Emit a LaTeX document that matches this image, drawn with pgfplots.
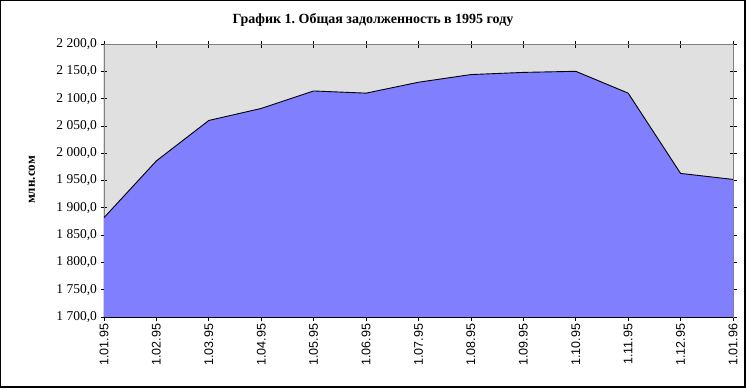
\documentclass[border=0pt]{standalone}
\usepackage{fontspec}
\setmainfont{Liberation Serif}
\newfontfamily\xfont{Liberation Sans}
\usepackage{pgfplots}
\pgfplotsset{compat=1.18}
\definecolor{areafill}{RGB}{128,128,255}
\definecolor{plotbg}{RGB}{224,224,224}
\frenchspacing
\begin{document}
\begin{tikzpicture}[x=1pt,y=1pt]
\useasboundingbox (-104,-71) rectangle (642,317);
\draw[black,line width=1pt] (-103.5,-70) rectangle (641,316.5);
\draw[black,line width=2pt] (-103.5,-70) -- (641,-70) -- (641,316.5);
\begin{axis}[
  at={(0,0)}, anchor=south west,
  scale only axis, width=629pt, height=273pt,
  xmin=0, xmax=12, ymin=1700, ymax=2200,
  xtick={0,...,12},
  xticklabels={1.01.95,1.02.95,1.03.95,1.04.95,1.05.95,1.06.95,1.07.95,1.08.95,1.09.95,1.10.95,1.11.95,1.12.95,1.01.96},
  xticklabel style={rotate=90, anchor=east, font=\xfont\fontsize{12.5}{14}\selectfont},
  ytick={1700,1750,...,2200},
  yticklabel style={font=\fontsize{13.5}{15}\selectfont},
  /pgf/number format/.cd, fixed, fixed zerofill, precision=1, use comma, 1000 sep={\ }, assume math mode=true,
  /pgfplots/.cd,
  tick align=center, major tick length=7pt,
  tick style={black, line width=0.8pt},
  axis line style={draw=gray, line width=0.8pt},
  axis background/.style={fill=plotbg},
  clip=true,
]
\addplot[fill=areafill, draw=none] coordinates {
(0,1882) (1,1986) (2,2060) (3,2082) (4,2114) (5,2110) (6,2130) (7,2144) (8,2148) (9,2150) (10,2110) (11,1963) (12,1952)
} \closedcycle;
\addplot[black, line width=0.9pt] coordinates {
(0,1882) (1,1986) (2,2060) (3,2082) (4,2114) (5,2110) (6,2130) (7,2144) (8,2148) (9,2150) (10,2110) (11,1963) (12,1952)
};
\draw[black, line width=1pt] (rel axis cs:0,1) -- (rel axis cs:0,0) -- (rel axis cs:1,0);
\end{axis}
\node[font=\bfseries\fontsize{14}{16}\selectfont] at (269,297) {График 1. Общая задолженность в 1995 году};
\node[font=\bfseries\fontsize{13}{15}\selectfont, rotate=90] at (-72,137) {млн.сом};
\end{tikzpicture}
\end{document}
